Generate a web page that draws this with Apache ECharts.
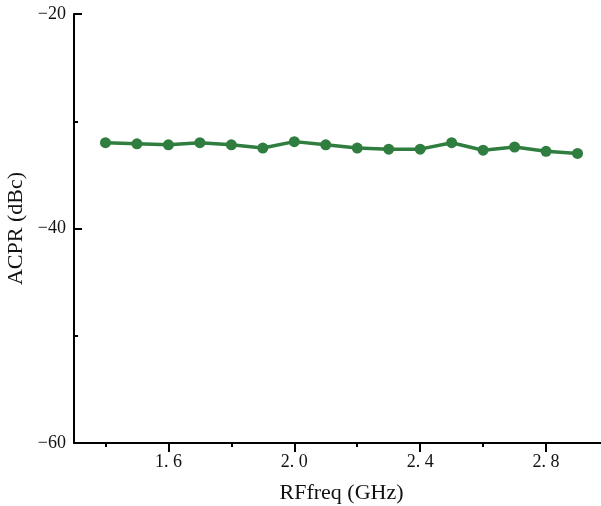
<!DOCTYPE html>
<html>
<head>
<meta charset="utf-8">
<script src="https://cdn.jsdelivr.net/npm/echarts@6/dist/echarts.min.js"></script>
<style>
  html, body { margin: 0; padding: 0; background: #fff; }
  #chart { width: 601px; height: 506px; }
</style>
</head>
<body>
<div id="chart"></div>
<script>
// RF frequency sweep (GHz) and measured ACPR (dBc)
const freqGHz = [1.4, 1.5, 1.6, 1.7, 1.8, 1.9, 2.0, 2.1, 2.2, 2.3, 2.4, 2.5, 2.6, 2.7, 2.8, 2.9];
const acprDbc = [-32.0, -32.1, -32.2, -32.0, -32.2, -32.5, -31.9, -32.2, -32.5, -32.6, -32.6, -32.0, -32.7, -32.4, -32.8, -33.0];

// Axis tick positions on the frequency axis
const xMajorTicks = [1.6, 2.0, 2.4, 2.8];
const xMinorTicks = [1.4, 1.8, 2.2, 2.6, 3.0];

const FONT = '"Liberation Serif", "DejaVu Serif", serif';
const lineColor = '#2f7d3f';
const tickLine = { color: '#000', width: 2 };

const chart = echarts.init(document.getElementById('chart'), null, { renderer: 'canvas' });

const baseX = { type: 'value', min: 1.3, max: 3.0, splitLine: { show: false } };

chart.setOption({
  animation: false,
  backgroundColor: '#fff',
  grid: { left: 74, right: -8, top: 14, bottom: 63, containLabel: false, outerBoundsMode: 'none' },
  xAxis: [
    Object.assign({}, baseX, {
      position: 'bottom',
      name: 'RFfreq (GHz)',
      nameLocation: 'middle',
      nameGap: 39,
      nameTextStyle: { fontFamily: FONT, fontSize: 22, color: '#111' },
      axisLine: { show: true, lineStyle: { color: '#000', width: 2 } },
      // negative length turns the custom ticks toward the plot area
      axisTick: { show: true, inside: true, length: -9, customValues: xMajorTicks, lineStyle: tickLine },
      axisLabel: {
        customValues: xMajorTicks,
        margin: 10,
        fontFamily: FONT, fontSize: 18, color: '#111',
        formatter: v => v.toFixed(1).replace('.', '. ')
      }
    }),
    Object.assign({}, baseX, {
      position: 'bottom',
      axisLine: { show: false },
      axisTick: { show: true, inside: true, length: -4, customValues: xMinorTicks, lineStyle: tickLine },
      axisLabel: { show: false }
    })
  ],
  yAxis: {
    type: 'value', min: -60, max: -20, interval: 20,
    splitLine: { show: false },
    name: 'ACPR (dBc)',
    nameLocation: 'middle',
    nameGap: 38,
    nameTextStyle: { fontFamily: FONT, fontSize: 22, color: '#111' },
    axisLine: { show: true, lineStyle: { color: '#000', width: 2 } },
    axisTick: { show: true, inside: true, length: 8, lineStyle: tickLine },
    minorTick: { show: true, splitNumber: 2, length: 4, lineStyle: tickLine },
    axisLabel: {
      margin: 8,
      fontFamily: FONT, fontSize: 18, color: '#111',
      formatter: v => (v < 0 ? '\u2212' : '') + Math.abs(v)
    }
  },
  series: [{
    type: 'line',
    data: freqGHz.map((f, i) => [f, acprDbc[i]]),
    symbol: 'circle',
    symbolSize: 11,
    lineStyle: { color: lineColor, width: 3.5 },
    itemStyle: { color: lineColor },
    clip: false
  }]
});
</script>
</body>
</html>
